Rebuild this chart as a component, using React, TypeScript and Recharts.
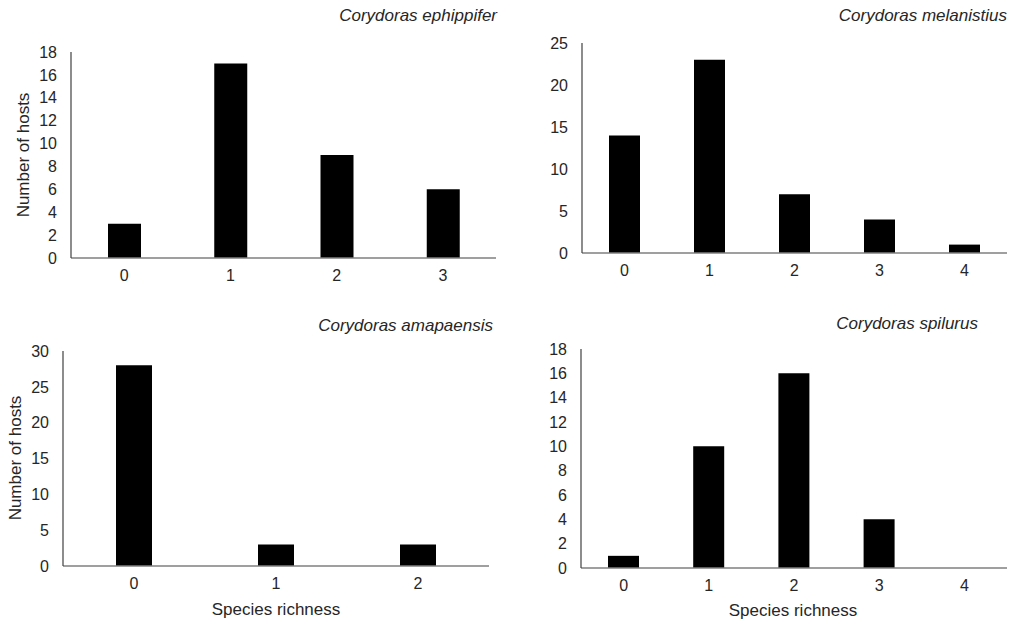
import React from 'react';
import { BarChart, Bar, XAxis, YAxis } from 'recharts';

const ephippiferCategories = ['0', '1', '2', '3'];
const ephippiferValues = [3, 17, 9, 6];
const ephippiferTicks = [0, 2, 4, 6, 8, 10, 12, 14, 16, 18];

const melanistiusCategories = ['0', '1', '2', '3', '4'];
const melanistiusValues = [14, 23, 7, 4, 1];
const melanistiusTicks = [0, 5, 10, 15, 20, 25];

const amapaensisCategories = ['0', '1', '2'];
const amapaensisValues = [28, 3, 3];
const amapaensisTicks = [0, 5, 10, 15, 20, 25, 30];

const spilurusCategories = ['0', '1', '2', '3', '4'];
const spilurusValues = [1, 10, 16, 4, 0];
const spilurusTicks = [0, 2, 4, 6, 8, 10, 12, 14, 16, 18];

const FONT = '"Liberation Sans", Arial, sans-serif';
const TEXT = '#262626';

type PanelProps = {
  categories: string[];
  values: number[];
  ticks: number[];
  left: number;
  top: number;
  width: number;
  height: number;
  margin: { top: number; right: number; bottom: number; left: number };
  yWidth: number;
  barSize: number;
};

function Panel(p: PanelProps) {
  const data = p.categories.map((c, i) => ({ cat: c, value: p.values[i] }));
  const max = p.ticks[p.ticks.length - 1];
  return (
    <div style={{ position: 'absolute', left: p.left, top: p.top }}>
      <BarChart width={p.width} height={p.height} data={data} margin={p.margin}>
        <XAxis
          dataKey="cat"
          height={30}
          tickLine={false}
          tickSize={0}
          tickMargin={12}
          axisLine={{ stroke: '#7f7f7f', strokeWidth: 1.5 }}
          tick={{ fill: TEXT, fontSize: 16, fontFamily: FONT }}
          interval={0}
        />
        <YAxis
          width={p.yWidth}
          domain={[0, max]}
          ticks={p.ticks}
          interval={0}
          tickLine={false}
          tickSize={0}
          tickMargin={14}
          axisLine={{ stroke: '#404040', strokeWidth: 1.2 }}
          tick={{ fill: TEXT, fontSize: 16, fontFamily: FONT }}
        />
        <Bar dataKey="value" fill="#000000" barSize={p.barSize} isAnimationActive={false} />
      </BarChart>
    </div>
  );
}

const titleStyle = (right: number, centerY: number): React.CSSProperties => ({
  position: 'absolute',
  right: 1011 - right,
  top: centerY - 10,
  lineHeight: '20px',
  fontSize: 17,
  fontStyle: 'italic',
  fontFamily: FONT,
  color: TEXT,
  whiteSpace: 'nowrap',
});

const centerStyle = (cx: number, cy: number, rotate: boolean): React.CSSProperties => ({
  position: 'absolute',
  left: cx,
  top: cy,
  transform: `translate(-50%, -50%)${rotate ? ' rotate(-90deg)' : ''}`,
  lineHeight: '20px',
  fontSize: 17,
  fontFamily: FONT,
  color: TEXT,
  whiteSpace: 'nowrap',
});

export default function App() {
  return (
    <div
      style={{
        position: 'absolute',
        left: 0,
        top: 0,
        width: 1011,
        height: 623,
        background: '#ffffff',
        overflow: 'hidden',
      }}
    >
      <Panel
        categories={ephippiferCategories}
        values={ephippiferValues}
        ticks={ephippiferTicks}
        left={0}
        top={0}
        width={505}
        height={300}
        margin={{ top: 52, right: 9, bottom: 12, left: 0 }}
        yWidth={71}
        barSize={33}
      />
      <Panel
        categories={melanistiusCategories}
        values={melanistiusValues}
        ticks={melanistiusTicks}
        left={505}
        top={0}
        width={506}
        height={300}
        margin={{ top: 43, right: 4, bottom: 17, left: 0 }}
        yWidth={77}
        barSize={31}
      />
      <Panel
        categories={amapaensisCategories}
        values={amapaensisValues}
        ticks={amapaensisTicks}
        left={0}
        top={300}
        width={505}
        height={323}
        margin={{ top: 51, right: 16, bottom: 27, left: 0 }}
        yWidth={63}
        barSize={36}
      />
      <Panel
        categories={spilurusCategories}
        values={spilurusValues}
        ticks={spilurusTicks}
        left={505}
        top={300}
        width={506}
        height={323}
        margin={{ top: 49, right: 4, bottom: 25, left: 0 }}
        yWidth={76}
        barSize={31}
      />

      <div style={titleStyle(497, 16)}>Corydoras ephippifer</div>
      <div style={titleStyle(1007, 16)}>Corydoras melanistius</div>
      <div style={titleStyle(493, 326)}>Corydoras amapaensis</div>
      <div style={titleStyle(978, 324)}>Corydoras spilurus</div>

      <div style={centerStyle(24, 155, true)}>Number of hosts</div>
      <div style={centerStyle(16, 458, true)}>Number of hosts</div>
      <div style={centerStyle(276, 610, false)}>Species richness</div>
      <div style={centerStyle(793, 611, false)}>Species richness</div>
    </div>
  );
}
